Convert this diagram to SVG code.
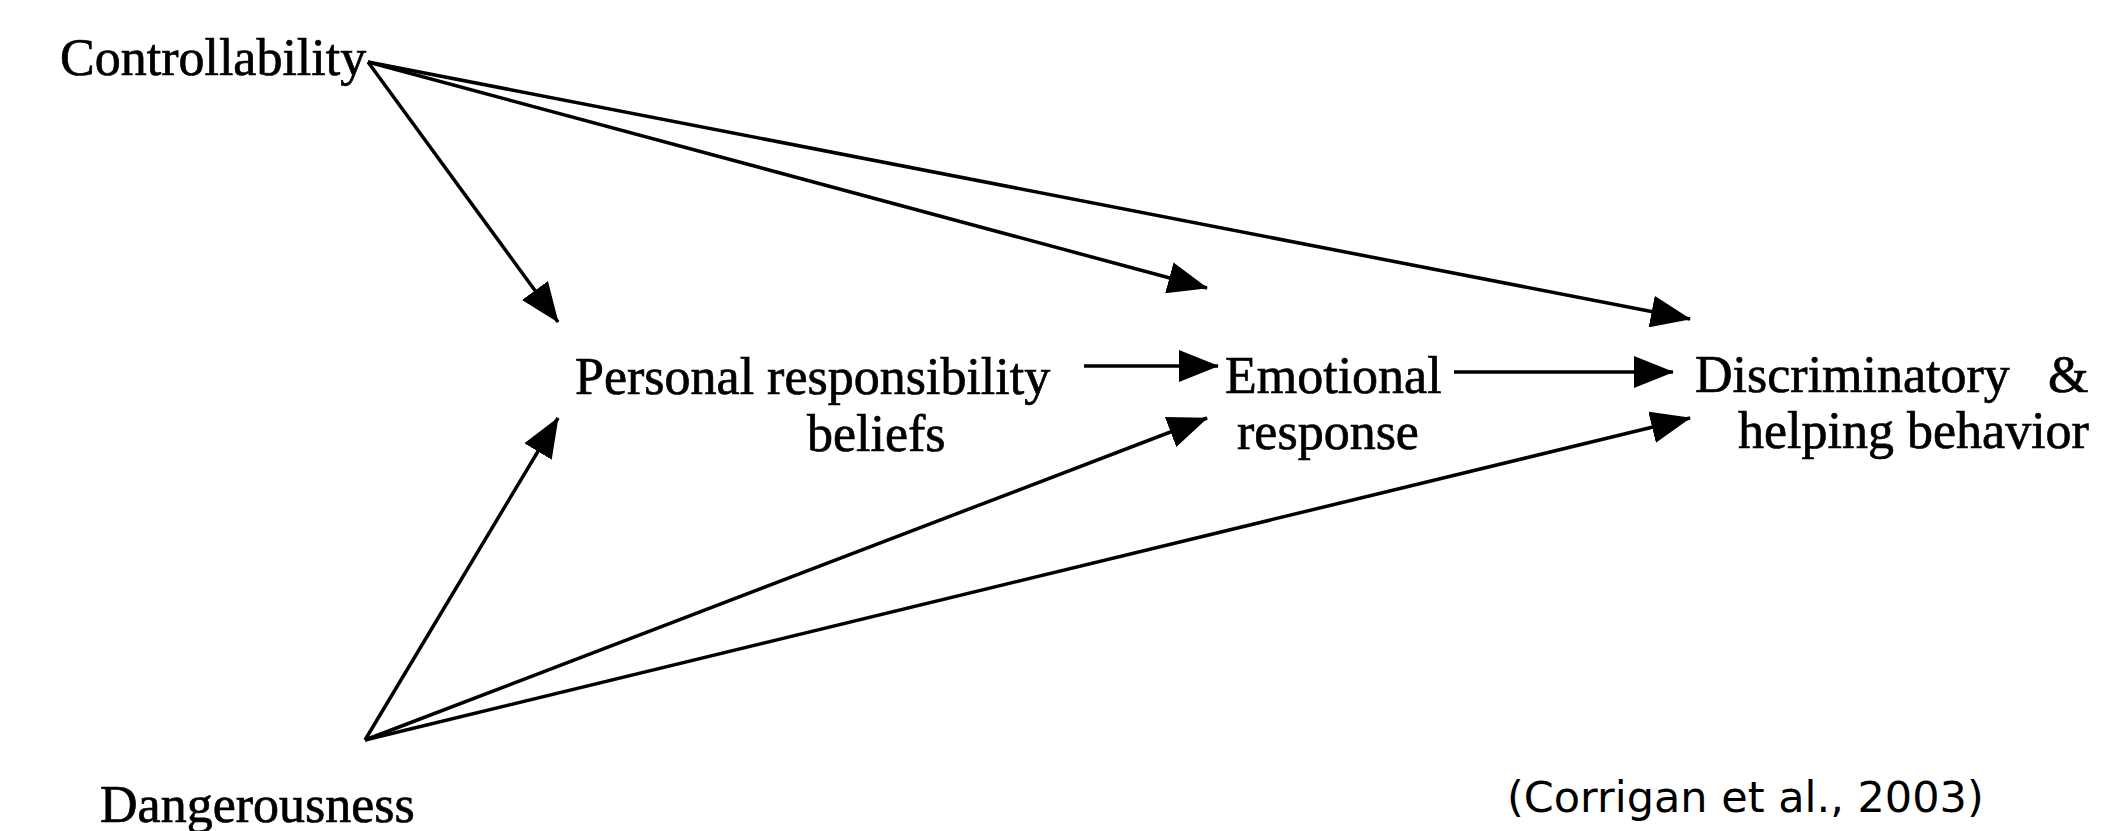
<svg xmlns="http://www.w3.org/2000/svg" width="2104" height="831" viewBox="0 0 2104 831">
<style>
.lbl{font-family:"Liberation Serif","Times New Roman",serif;font-size:52px;fill:#000;stroke:#000;stroke-width:0.7}
.cite{font-family:"DejaVu Sans",Verdana,sans-serif;font-size:43px;fill:#000}
.con line{stroke:#000;stroke-width:3.5;marker-end:url(#ah)}
</style>
<defs>
<marker id="ah" viewBox="0 0 40 32" refX="39" refY="16" markerWidth="40" markerHeight="32" markerUnits="userSpaceOnUse" orient="auto">
<path d="M0,0 L40,16 L0,32 z" fill="#000"/>
</marker>
</defs>
<rect width="2104" height="831" fill="#fff"/>
<g id="controllability"><text class="lbl" x="60" y="75">Controllability</text></g>
<g id="personal"><text class="lbl" x="575" y="394">Personal responsibility</text><text class="lbl" x="807" y="451">beliefs</text></g>
<g id="emotional"><text class="lbl" x="1225" y="393">Emotional</text><text class="lbl" x="1237" y="449">response</text></g>
<g id="discriminatory"><text class="lbl" x="1695" y="392">Discriminatory</text><text class="lbl" x="2048" y="392">&amp;</text><text class="lbl" x="1738" y="448">helping behavior</text></g>
<g id="dangerousness"><text class="lbl" x="100" y="822">Dangerousness</text></g>
<g id="citation"><text class="cite" x="1507" y="812">(Corrigan et al., 2003)</text></g>
<g id="connectors" class="con">
<line x1="368" y1="62" x2="558" y2="322"/>
<line x1="368" y1="62" x2="1207" y2="288"/>
<line x1="368" y1="62" x2="1690" y2="319"/>
<line x1="365" y1="740" x2="558" y2="418"/>
<line x1="365" y1="740" x2="1207" y2="418"/>
<line x1="365" y1="740" x2="1690" y2="418"/>
<line x1="1084" y1="366" x2="1218" y2="366"/>
<line x1="1454" y1="372" x2="1673" y2="372"/>
</g>
</svg>
